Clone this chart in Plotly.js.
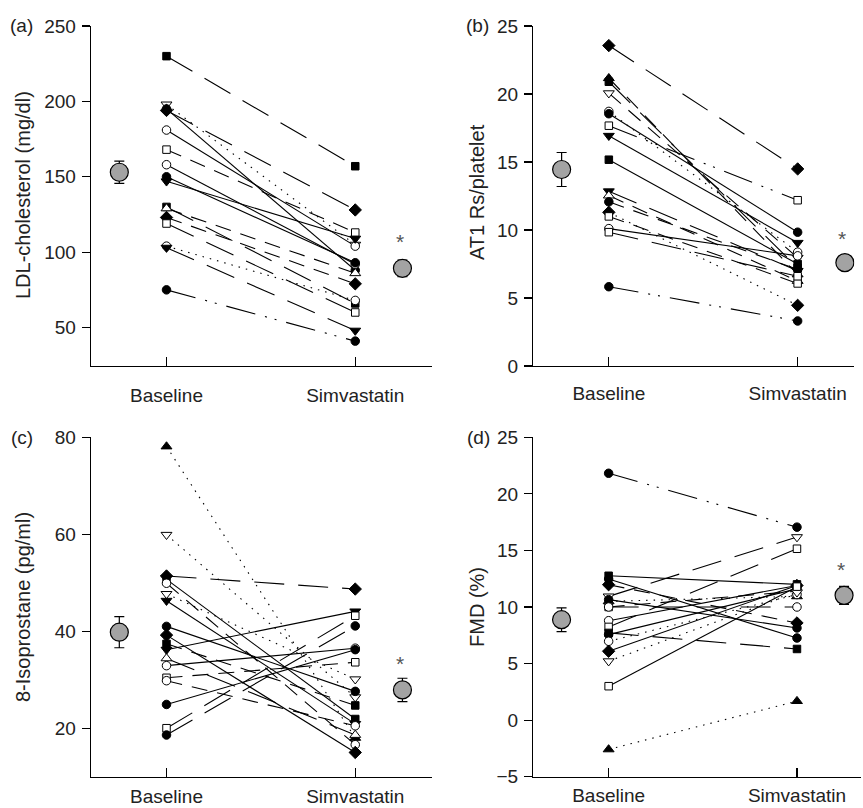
<!DOCTYPE html>
<html><head><meta charset="utf-8">
<script src="https://cdn.plot.ly/plotly-3.0.1.min.js"></script>
<style>html,body{margin:0;padding:0;background:#fff}#chart{width:863px;height:808px}</style>
</head><body><div id="chart"></div>
<script>
// ---------- data ----------
const groupPos = [1, 2];
const groupLabels = ['Baseline', 'Simvastatin'];
const meanPos = [0.75, 2.25];

// (a) LDL-cholesterol
const ldlBaseline = [230,198,195,194,181,168,158,150,147,130,129,123,119,104,103,75];
const ldlSimva    = [157,105,88,128,104,113,92,93,109,66,86,79,60,68,48,41];
const ldlMean = [153, 89.3];
const ldlSem  = [7.4, 5.5];
const ldlStar = 110.7;

// (b) AT1 Rs/platelet
const at1Baseline = [23.56,21.16,20.9,20.06,18.72,18.55,17.67,16.93,15.17,12.85,12.53,12.07,11.3,11.0,10.1,9.84,5.83];
const at1Simva    = [14.49,6.73,7.22,7.96,8.37,9.84,12.19,9.06,7.5,7.0,6.25,7.1,4.46,6.07,8.1,6.6,3.31];
const at1Mean = [14.45, 7.6];
const at1Sem  = [1.25, 0.4];
const at1Star = 9.74;

// (c) 8-Isoprostane
const isoBaseline = [78.1,59.9,51.4,50.7,49.9,47.7,46.3,41.0,39.2,37.4,36.2,34.4,32.9,30.4,29.8,24.9,20.0,18.6];
const isoSimva    = [18.0,26.4,48.7,21.9,16.6,30.1,20.9,27.6,15.0,24.7,44.1,18.6,36.5,33.6,20.5,36.2,43.2,41.1];
const isoMean = [39.8, 27.9];
const isoSem  = [3.2, 2.4];
const isoStar = 34.4;

// (d) FMD
const fmdBaseline = [21.82,12.76,12.47,11.97,10.94,10.65,10.5,10.0,10.0,8.79,8.24,7.71,7.56,6.97,6.09,5.21,3.0,-2.59];
const fmdSimva    = [17.06,12.0,7.26,8.59,16.18,8.15,10.94,11.4,10.0,11.9,15.15,6.29,11.6,11.1,11.9,11.3,11.8,1.68];
const fmdMean = [8.88, 11.03];
const fmdSem  = [1.05, 0.8];
const fmdStar = 13.8;

// ---------- styles ----------
const ldlShape = ['sq','tdo','ci','di','cio','sqo','cio','ci','td','sq','tuo','di','sqo','cio','td','ci'];
const ldlDash  = ['L','O','S','L','S','D','S','S','S','L','D','D','L','O','L','DD'];
const at1Shape = ['di','tu','sq','tdo','cio','ci','sqo','td','sq','td','tuo','ci','di','sqo','cio','sqo','ci'];
const at1Dash  = ['L','D','L','D','O','S','DD','S','S','L','D','D','O','D','S','L','DD'];
const isoShape = ['tu','tdo','di','sq','cio','tdo','td','ci','di','sq','td','tuo','cio','sqo','cio','ci','sqo','ci'];
const isoDash  = ['O','O','L','S','D','O','S','S','S','D','S','L','S','D','D','S','L','L'];
const fmdShape = ['ci','sq','ci','di','tdo','ci','tu','sqo','cio','cio','sqo','sq','ci','cio','di','tdo','sqo','tu'];
const fmdDash  = ['DD','S','S','D','L','S','O','D','L','S','L','L','S','O','S','O','S','O'];

const SHAPES = {
  sq:  {symbol:'square', fill:'black', size:7.5},
  sqo: {symbol:'square', fill:'white', size:7.5},
  ci:  {symbol:'circle', fill:'black', size:8.5},
  cio: {symbol:'circle', fill:'white', size:8.5},
  tu:  {symbol:'triangle-up', fill:'black', size:9.5},
  tuo: {symbol:'triangle-up', fill:'white', size:9.5},
  td:  {symbol:'triangle-down', fill:'black', size:9.5},
  tdo: {symbol:'triangle-down', fill:'white', size:9.5},
  di:  {symbol:'diamond', fill:'black', size:9.5},
  dio: {symbol:'diamond', fill:'white', size:9.5}
};
const DASHES = {S:'solid', L:'30px,14px', D:'16px,10px', O:'1.5px,6px', DD:'30px,10px,2px,8px,2px,10px'};

const FONT = 'Liberation Sans, Arial, Helvetica, sans-serif';
const traces = [];

function panel(base, simv, mean, sem, shapes, dashes, ax) {
  const xa = 'x' + ax, ya = 'y' + ax;
  for (let i = 0; i < base.length; i++) {
    traces.push({type:'scatter', mode:'lines', x:groupPos, y:[base[i], simv[i]],
      xaxis:xa, yaxis:ya, line:{color:'black', width:1.1, dash:DASHES[dashes[i]]},
      hoverinfo:'skip', showlegend:false});
  }
  const xs = [], ys = [], sym = [], col = [], sz = [];
  for (let i = 0; i < base.length; i++) {
    const s = SHAPES[shapes[i]];
    xs.push(groupPos[0]); ys.push(base[i]); sym.push(s.symbol); col.push(s.fill); sz.push(s.size);
    xs.push(groupPos[1]); ys.push(simv[i]); sym.push(s.symbol); col.push(s.fill); sz.push(s.size);
  }
  traces.push({type:'scatter', mode:'markers', x:xs, y:ys, xaxis:xa, yaxis:ya,
    marker:{symbol:sym, color:col, size:sz, opacity:1, line:{color:'black', width:1}}, showlegend:false});
  traces.push({type:'scatter', mode:'markers', x:meanPos, y:mean, xaxis:xa, yaxis:ya,
    error_y:{type:'data', array:sem, visible:true, color:'black', thickness:1.2, width:5},
    marker:{symbol:'circle', color:'#a3a3a3', size:18, opacity:1, line:{color:'black', width:1.2}}, showlegend:false});
}
panel(ldlBaseline, ldlSimva, ldlMean, ldlSem, ldlShape, ldlDash, '');
panel(at1Baseline, at1Simva, at1Mean, at1Sem, at1Shape, at1Dash, '2');
panel(isoBaseline, isoSimva, isoMean, isoSem, isoShape, isoDash, '3');
panel(fmdBaseline, fmdSimva, fmdMean, fmdSem, fmdShape, fmdDash, '4');

function xAx(domain, range, anchor, standoff) {
  return {domain:domain, range:range, anchor:anchor, tickvals:groupPos, ticktext:groupLabels,
    ticks:'inside', ticklen:9, tickwidth:1.2, tickcolor:'black', showline:true, linecolor:'black',
    linewidth:1.3, showgrid:false, zeroline:false, ticklabelstandoff:standoff,
    tickfont:{family:FONT, size:19, color:'#222'}, fixedrange:true};
}
function yAx(domain, range, tickvals, anchor) {
  return {domain:domain, range:range, anchor:anchor, tickvals:tickvals,
    ticks:'outside', ticklen:8, tickwidth:1.2, tickcolor:'black', showline:true, linecolor:'black',
    linewidth:1.3, showgrid:false, zeroline:false, ticklabelstandoff:2,
    tickfont:{family:FONT, size:19, color:'#222'}, fixedrange:true};
}
const topDom = [1-366/808, 1-26/808];
const botDom = [1-776.7/808, 1-437.3/808];
const leftDom = [91/863, 431.7/863];

function ann(text, x, y, opts) {
  return Object.assign({text:text, x:x, y:y, xref:'paper', yref:'paper', showarrow:false,
    xanchor:'center', yanchor:'middle', font:{family:FONT, size:19, color:'#222'}}, opts||{});
}
function star(y, ax) {
  return {text:'*', x:2.235, y:y, xref:'x'+ax, yref:'y'+ax, showarrow:false, yshift:-5,
    xanchor:'center', yanchor:'middle', font:{family:FONT, size:21, color:'#555'}};
}

const layout = {
  width:863, height:808, margin:{l:0, r:0, t:0, b:0},
  paper_bgcolor:'white', plot_bgcolor:'rgba(0,0,0,0)', showlegend:false,
  xaxis:  xAx(leftDom, [0.6, 2.405], 'y', 12),
  yaxis:  yAx(topDom, [24.5, 250], [50,100,150,200,250], 'x'),
  xaxis2: xAx([533.3/863, 854.3/863], [0.6, 2.30], 'y2', 10),
  yaxis2: yAx(topDom, [0, 25], [0,5,10,15,20,25], 'x2'),
  xaxis3: xAx(leftDom, [0.6, 2.405], 'y3', 2),
  yaxis3: yAx(botDom, [10, 80], [20,40,60,80], 'x3'),
  xaxis4: xAx([533.3/863, 861/863], [0.6, 2.34], 'y4', 1),
  yaxis4: yAx(botDom, [-5, 25], [-5,0,5,10,15,20,25], 'x4'),
  annotations: [
    ann('(a)', 21.5/863, 1-25/808),
    ann('(b)', 477.5/863, 1-25/808),
    ann('(c)', 22/863, 1-437/808),
    ann('(d)', 478/863, 1-437/808),
    ann('LDL-cholesterol (mg/dl)', 23/863, 1-195/808, {textangle:-90, font:{family:FONT, size:20, color:'#222'}}),
    ann('AT1 Rs/platelet', 477/863, 1-192/808, {textangle:-90, font:{family:FONT, size:20, color:'#222'}}),
    ann('8-Isoprostane (pg/ml)', 23/863, 1-607/808, {textangle:-90, font:{family:FONT, size:20, color:'#222'}}),
    ann('FMD (%)', 477/863, 1-607/808, {textangle:-90, font:{family:FONT, size:20, color:'#222'}}),
    star(ldlStar, ''), star(at1Star, '2'), star(isoStar, '3'), star(fmdStar, '4')
  ]
};

Plotly.newPlot('chart', traces, layout, {staticPlot:true, displayModeBar:false});
</script></body></html>
